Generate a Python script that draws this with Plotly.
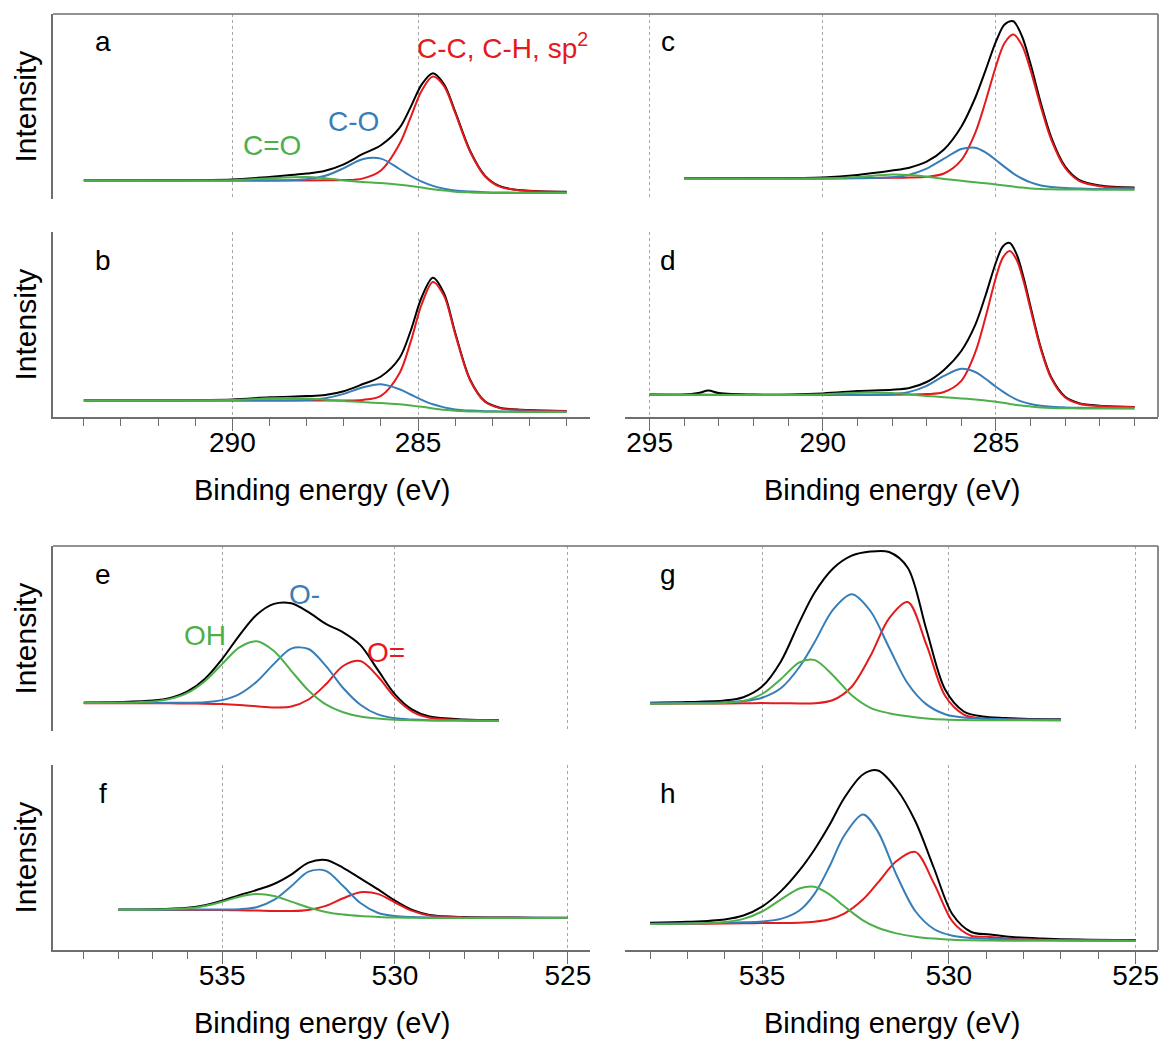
import plotly.graph_objects as go

W, H = 1163, 1046

# ---------------- C 1s data (intensity in arbitrary units) ----------------
E_a = [294, 292, 290, 289, 288, 287.5, 287, 286.5, 286, 285.5, 285.2, 284.9, 284.6, 284.3, 284.0, 283.6, 283.2, 282.8, 282.2, 281]
black_a = [18.7, 18.7, 19.4, 22.1, 25.4, 28.3, 34.7, 44.8, 53.8, 71.1, 91.9, 114.7, 125.8, 114.8, 87.3, 48.3, 23.4, 12.8, 8.7, 7.2]
red_a = [18.6, 18.4, 18.5, 18.5, 18.6, 18.7, 18.9, 20.4, 28.5, 54.9, 81.6, 108.6, 122.5, 112.9, 86.1, 47.5, 22.8, 12.3, 8.4, 7.0]
blue_a = [18.5, 18.4, 18.4, 18.5, 19.7, 23.2, 30.8, 39.8, 40.4, 30.0, 23.0, 17.3, 13.1, 10.3, 8.5, 7.4, 6.8, 6.5, 6.3, 6.2]
green_a = [18.4, 18.3, 18.6, 20.8, 22.1, 20.8, 18.6, 17.0, 15.9, 14.2, 12.9, 11.4, 9.8, 8.4, 7.3, 6.6, 6.2, 6.0, 6.0, 6.0]

E_b = [294, 292, 290, 289, 288, 287.5, 287, 286.5, 286, 285.5, 285.2, 284.9, 284.6, 284.3, 284.0, 283.6, 283.2, 282.8, 282.2, 281]
black_b = [16.7, 16.7, 17.5, 19.7, 20.9, 22.0, 25.8, 32.7, 40.5, 59.0, 86.0, 120.0, 139.2, 123.5, 84.3, 37.6, 15.7, 9.3, 7.2, 6.0]
red_b = [16.6, 16.5, 16.5, 16.4, 16.5, 16.5, 16.6, 17.1, 21.2, 43.8, 75.1, 113.0, 135.1, 121.1, 82.9, 36.8, 15.2, 8.9, 6.9, 5.8]
blue_b = [16.6, 16.4, 16.4, 16.4, 17.0, 18.8, 23.1, 29.5, 32.7, 27.7, 22.5, 17.2, 12.7, 9.6, 7.6, 6.4, 5.8, 5.6, 5.4, 5.2]
green_b = [16.5, 16.4, 16.9, 18.7, 18.6, 17.3, 15.9, 14.9, 14.0, 12.7, 11.6, 10.2, 8.6, 7.2, 6.2, 5.6, 5.3, 5.2, 5.1, 5.0]

E_c = [294, 292, 290, 289, 288, 287.5, 287, 286.5, 286, 285.6, 285.3, 285.0, 284.75, 284.5, 284.25, 284.0, 283.7, 283.4, 283.0, 282.6, 282.0, 281]
black_c = [20.7, 20.9, 21.6, 24.0, 28.4, 31.3, 37.3, 49.5, 72.3, 101.0, 128.6, 157.3, 174.6, 177.7, 163.0, 134.9, 95.5, 61.4, 32.4, 19.2, 13.5, 11.5]
red_c = [20.5, 20.6, 20.7, 20.9, 21.2, 21.5, 22.3, 25.5, 38.9, 65.9, 97.5, 132.8, 156.0, 164.4, 153.9, 128.9, 91.9, 59.1, 31.0, 18.2, 12.8, 11.0]
blue_c = [20.5, 20.5, 20.5, 20.7, 21.8, 24.3, 30.3, 40.3, 50.0, 51.3, 46.6, 39.0, 32.1, 25.7, 20.5, 16.6, 13.6, 12.0, 10.9, 10.4, 10.0, 9.8]
green_c = [20.3, 20.2, 20.3, 22.0, 24.4, 23.9, 22.3, 20.1, 18.2, 16.8, 15.7, 14.5, 13.5, 12.4, 11.4, 10.6, 10.0, 9.7, 9.5, 9.4, 9.3, 9.3]

E_d = [295, 294, 293.6, 293.3, 293.0, 292, 290, 289, 288, 287.5, 287, 286.5, 286, 285.6, 285.3, 285.0, 284.8, 284.6, 284.4, 284.2, 284.0, 283.7, 283.4, 283.0, 282.6, 282.0, 281]
black_d = [22.5, 22.4, 23.9, 26.4, 23.9, 22.4, 23.6, 25.9, 27.2, 29.0, 35.0, 47.1, 66.0, 91.8, 121.5, 154.5, 170.5, 174.0, 162.5, 139.2, 110.3, 68.9, 39.5, 20.3, 13.9, 11.3, 10.1]
red_d = [22.4, 22.3, 22.3, 22.2, 22.2, 22.2, 22.2, 22.2, 22.3, 22.5, 22.9, 25.0, 36.2, 64.3, 99.8, 139.5, 159.4, 166.1, 157.0, 135.5, 107.7, 67.3, 38.4, 19.5, 13.3, 10.9, 9.8]
blue_d = [22.3, 22.2, 22.2, 22.1, 22.1, 22.1, 22.0, 22.0, 22.8, 25.1, 31.2, 41.1, 48.2, 45.0, 38.2, 30.2, 25.4, 21.0, 17.4, 14.9, 13.0, 11.2, 10.2, 9.6, 9.2, 9.0, 8.8]
green_d = [22.2, 22.1, 22.1, 22.0, 22.0, 21.9, 22.6, 24.3, 23.9, 22.6, 21.1, 19.8, 18.6, 17.5, 16.5, 15.2, 14.3, 13.1, 11.9, 11.2, 10.4, 9.6, 9.1, 8.8, 8.6, 8.5, 8.5]

# ---------------- O 1s data ----------------
E_e = [539, 538, 537, 536.5, 536, 535.5, 535, 534.5, 534, 533.5, 533, 532.5, 532, 531.5, 531, 530.5, 530, 529.5, 529, 528, 527]
black_e = [28.6, 29.0, 30.4, 33.1, 39.5, 52.1, 71.9, 95.7, 116.2, 127.1, 127.7, 118.8, 107.1, 98.7, 85.9, 61.3, 36.7, 21.4, 14.5, 11.6, 11.0]
red_e = [27.8, 27.8, 27.7, 27.7, 27.5, 27.3, 26.9, 26.0, 24.7, 23.6, 24.5, 31.5, 46.7, 65.0, 69.9, 54.7, 33.6, 19.4, 13.2, 10.8, 10.5]
blue_e = [28.0, 28.0, 28.1, 28.2, 28.3, 28.8, 30.9, 36.9, 49.3, 67.1, 82.4, 82.0, 65.2, 43.0, 26.3, 16.6, 12.7, 11.4, 10.8, 10.5, 10.3]
green_e = [28.2, 28.4, 29.6, 32.1, 38.1, 49.8, 66.9, 83.6, 89.8, 80.0, 60.2, 40.5, 26.6, 18.7, 14.5, 12.4, 11.2, 10.8, 10.5, 10.4, 10.3]

E_f = [538, 537, 536, 535.5, 535, 534.5, 534, 533.5, 533, 532.5, 532, 531.5, 531, 530.5, 530, 529.5, 529, 528, 527, 526, 525]
black_f = [40.4, 40.7, 42.2, 44.7, 49.2, 54.8, 60.0, 66.0, 75.4, 87.4, 90.1, 82.2, 71.6, 60.9, 49.3, 40.0, 35.1, 32.9, 32.5, 32.3, 32.2]
red_f = [40.1, 40.1, 40.1, 40.0, 40.0, 39.7, 39.4, 39.0, 39.0, 40.1, 44.1, 51.7, 57.7, 56.1, 47.5, 39.1, 34.5, 32.5, 32.2, 32.1, 32.1]
blue_f = [40.2, 40.2, 40.4, 40.4, 40.5, 40.8, 42.8, 50.1, 63.8, 78.4, 79.1, 63.9, 47.0, 37.3, 33.9, 32.9, 32.5, 32.3, 32.2, 32.2, 32.1]
green_f = [40.2, 40.4, 41.7, 44.1, 48.3, 53.3, 56.0, 54.1, 48.4, 42.5, 38.1, 35.4, 33.9, 33.1, 32.5, 32.3, 32.1, 32.1, 32.1, 32.1, 32.0]

E_g = [538, 537, 536, 535.5, 535, 534.5, 534, 533.6, 533.1, 532.6, 532.1, 531.6, 531.1, 530.6, 530.1, 529.6, 529.1, 528.5, 528, 527]
black_g = [28.3, 28.9, 30.5, 33.8, 44.4, 69.3, 108.9, 138.0, 162.5, 175.3, 179.5, 179.0, 163.3, 101.3, 41.4, 19.5, 14.5, 13.0, 12.3, 11.7]
red_g = [27.3, 27.4, 27.6, 27.8, 27.9, 27.8, 27.6, 27.7, 31.0, 44.3, 74.9, 112.6, 128.9, 86.3, 35.2, 16.4, 12.4, 11.6, 11.3, 11.0]
blue_g = [27.7, 28.0, 28.8, 29.9, 33.3, 42.7, 64.0, 88.4, 121.3, 136.7, 120.0, 83.5, 47.5, 26.6, 16.8, 13.4, 12.4, 11.8, 11.4, 11.2]
green_g = [27.3, 27.4, 28.1, 30.1, 37.0, 51.8, 68.7, 71.1, 55.6, 35.7, 23.2, 17.8, 14.7, 12.6, 11.4, 10.9, 10.7, 10.7, 10.7, 10.6]

E_h = [538, 537, 536, 535.5, 535, 534.5, 534, 533.6, 533.2, 532.8, 532.3, 531.9, 531.4, 530.9, 530.4, 529.9, 529.4, 528.9, 528.3, 527.5, 526.5, 525]
black_h = [27.3, 28.2, 30.6, 34.5, 43.4, 58.6, 79.6, 100.3, 124.7, 152.0, 175.5, 179.5, 161.0, 129.0, 82.0, 35.5, 18.0, 15.5, 13.0, 11.5, 10.4, 9.9]
red_h = [26.1, 26.2, 26.5, 26.7, 26.9, 27.1, 27.2, 28.2, 30.7, 36.4, 50.4, 67.3, 89.0, 98.1, 66.8, 28.4, 14.3, 13.1, 11.2, 10.2, 9.5, 9.3]
blue_h = [26.3, 26.6, 27.2, 27.7, 28.6, 31.1, 39.5, 55.9, 83.2, 114.5, 135.6, 118.4, 75.0, 39.0, 21.0, 14.2, 12.0, 11.1, 10.5, 10.1, 9.7, 9.5]
green_h = [26.0, 26.4, 27.9, 31.1, 38.5, 50.4, 61.5, 63.2, 55.6, 43.7, 29.7, 22.2, 16.6, 13.3, 11.4, 10.2, 9.7, 9.5, 9.3, 9.3, 9.2, 9.1]

# tick values
C_MAJOR = [295, 290, 285]
C_MINOR = list(range(281, 296))
O_MAJOR = [535, 530, 525]
O_MINOR = list(range(525, 540))

# axis ranges (binding energy decreasing to the right)
C_RANGE_LEFT = [294.83, 280.37]
C_RANGE_RIGHT = [295.71, 280.32]
O_RANGE_LEFT = [539.89, 524.36]
O_RANGE_RIGHT = [538.67, 524.40]

PANEL_LETTERS = ["a", "b", "c", "d", "e", "f", "g", "h"]

RED = "#E41A1C"
BLUE = "#377EB8"
GREEN = "#4DAF4A"
BLACK = "#000000"
FONT = "Liberation Sans, Arial, Helvetica, sans-serif"
AXC = "#6e6e6e"

LEFT_X = (53, 590)
RIGHT_X = (625, 1158)
ROW_Y = [(14, 199), (232, 417), (546, 731), (765, 950)]

panels = [
    (E_a, black_a, red_a, blue_a, green_a, LEFT_X, ROW_Y[0], C_RANGE_LEFT, C_MAJOR, C_MINOR, False, True),
    (E_b, black_b, red_b, blue_b, green_b, LEFT_X, ROW_Y[1], C_RANGE_LEFT, C_MAJOR, C_MINOR, True, True),
    (E_c, black_c, red_c, blue_c, green_c, RIGHT_X, ROW_Y[0], C_RANGE_RIGHT, C_MAJOR, C_MINOR, False, False),
    (E_d, black_d, red_d, blue_d, green_d, RIGHT_X, ROW_Y[1], C_RANGE_RIGHT, C_MAJOR, C_MINOR, True, False),
    (E_e, black_e, red_e, blue_e, green_e, LEFT_X, ROW_Y[2], O_RANGE_LEFT, O_MAJOR, O_MINOR, False, True),
    (E_f, black_f, red_f, blue_f, green_f, LEFT_X, ROW_Y[3], O_RANGE_LEFT, O_MAJOR, O_MINOR, True, True),
    (E_g, black_g, red_g, blue_g, green_g, RIGHT_X, ROW_Y[2], O_RANGE_RIGHT, O_MAJOR, O_MINOR, False, False),
    (E_h, black_h, red_h, blue_h, green_h, RIGHT_X, ROW_Y[3], O_RANGE_RIGHT, O_MAJOR, O_MINOR, True, False),
]


def px_x(p):
    return p / W


def px_y(p):
    return 1 - p / H


fig = go.Figure()
layout = {}
annotations = []

for i, (E, bk, rd, bl, gr, xdom, ydom, xr, major, minor, bottom, left) in enumerate(panels):
    n = i + 1
    xa = "x" if n == 1 else f"x{n}"
    ya = "y" if n == 1 else f"y{n}"
    for ys, col in [(bk, BLACK), (rd, RED), (bl, BLUE), (gr, GREEN)]:
        fig.add_trace(go.Scatter(
            x=E, y=ys, mode="lines",
            line=dict(color=col, width=2, shape="spline", smoothing=0.9),
            xaxis=xa, yaxis=ya, showlegend=False, hoverinfo="skip"))
    xkey = "xaxis" if n == 1 else f"xaxis{n}"
    ykey = "yaxis" if n == 1 else f"yaxis{n}"
    xax = dict(
        domain=[px_x(xdom[0]), px_x(xdom[1])], range=xr, anchor=ya,
        tickmode="array", tickvals=major, ticktext=[str(v) for v in major],
        showgrid=True, gridcolor="#a8a8a8", griddash="dot", gridwidth=1,
        zeroline=False, showline=bottom, linecolor=AXC, linewidth=1.6,
        ticks="outside" if bottom else "", ticklen=12, tickwidth=1.4, tickcolor=AXC,
        showticklabels=bottom, ticklabelstandoff=-12 if bottom else 0,
        tickfont=dict(size=28, color="#000", family=FONT),
    )
    if bottom:
        xax["minor"] = dict(tickmode="array", tickvals=minor, ticks="outside", ticklen=7,
                            tickwidth=1.4, tickcolor=AXC, showgrid=False)
    layout[xkey] = xax
    layout[ykey] = dict(
        domain=[px_y(ydom[1]), px_y(ydom[0])], range=[0, 185], anchor=xa,
        showgrid=False, zeroline=False, showticklabels=False, ticks="",
        showline=left, linecolor=AXC, linewidth=1.6,
    )
    # panel letter
    lx = 103 if left else 668
    annotations.append(dict(text=PANEL_LETTERS[i], x=px_x(lx), y=px_y(ydom[0] + 28),
                            xref="paper", yref="paper", showarrow=False,
                            xanchor="center", yanchor="middle",
                            font=dict(size=28, color="#000", family=FONT)))
    if left:
        annotations.append(dict(text="Intensity", x=px_x(25), y=px_y((ydom[0] + ydom[1]) / 2),
                                xref="paper", yref="paper", showarrow=False, textangle=-90,
                                xanchor="center", yanchor="middle",
                                font=dict(size=30, color="#000", family=FONT)))
    if bottom:
        annotations.append(dict(text="Binding energy (eV)", x=px_x((xdom[0] + xdom[1]) / 2),
                                y=px_y(ydom[1] + 73), xref="paper", yref="paper", showarrow=False,
                                xanchor="center", yanchor="middle",
                                font=dict(size=29, color="#000", family=FONT)))

# peak labels
peak_labels = [
    ("C-C, C-H, sp<sup>2</sup>", 502, 46, RED),
    ("C-O", 353, 122, BLUE),
    ("C=O", 272, 145, GREEN),
    ("OH", 205, 635, GREEN),
    ("O-", 305, 594, BLUE),
    ("O=", 386, 652, RED),
]
for txt, x, y, col in peak_labels:
    annotations.append(dict(text=txt, x=px_x(x), y=px_y(y), xref="paper", yref="paper",
                            showarrow=False, xanchor="center", yanchor="middle",
                            font=dict(size=28, color=col, family=FONT)))

# frame lines (top + right) of each group
shapes = []
for top, bot in [(ROW_Y[0][0], ROW_Y[1][1]), (ROW_Y[2][0], ROW_Y[3][1])]:
    shapes.append(dict(type="line", xref="paper", yref="paper",
                       x0=px_x(LEFT_X[0]), x1=px_x(RIGHT_X[1]), y0=px_y(top), y1=px_y(top),
                       line=dict(color=AXC, width=1.6)))
    shapes.append(dict(type="line", xref="paper", yref="paper",
                       x0=px_x(RIGHT_X[1]), x1=px_x(RIGHT_X[1]), y0=px_y(top), y1=px_y(bot),
                       line=dict(color=AXC, width=1.6)))

fig.update_layout(
    width=W, height=H, margin=dict(l=0, r=0, t=0, b=0),
    paper_bgcolor="white", plot_bgcolor="white",
    annotations=annotations, shapes=shapes,
    font=dict(family=FONT),
    **layout,
)

fig.write_html("out.html")
